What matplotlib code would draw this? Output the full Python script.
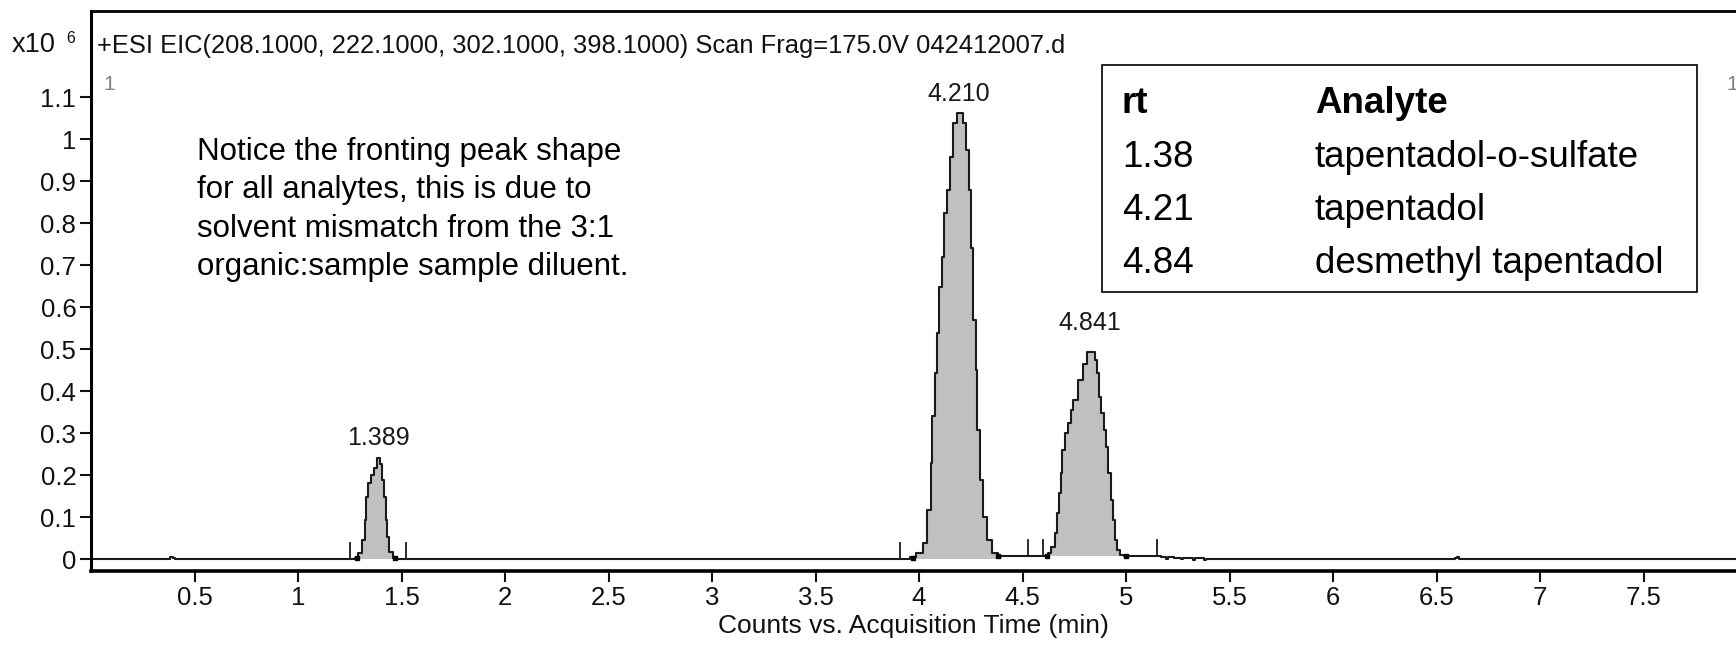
import matplotlib
matplotlib.use('Agg')
import matplotlib.pyplot as plt
from matplotlib.patches import Rectangle

plt.rcParams['font.family'] = ['Liberation Sans', 'DejaVu Sans']

W, H, DPI = 1736, 645, 100

# 峰1 (1.389) 读图得到的轮廓, 单位 x10^6 counts
PEAK1_T = [1.280, 1.300, 1.316, 1.327, 1.332, 1.345, 1.361, 1.377, 1.388, 1.401,
           1.409, 1.420, 1.428, 1.436, 1.448, 1.469]
PEAK1_V = [0.002, 0.014, 0.046, 0.094, 0.149, 0.181, 0.201, 0.217, 0.240, 0.228,
           0.189, 0.149, 0.094, 0.054, 0.018, 0.004]

# 峰2 (4.210)
PEAK2_T = [3.965, 4.005, 4.029, 4.053, 4.061, 4.069, 4.082, 4.093, 4.101, 4.117,
           4.126, 4.142, 4.158, 4.174, 4.190, 4.206, 4.222, 4.236, 4.246, 4.254,
           4.267, 4.279, 4.286, 4.303, 4.319, 4.335, 4.367, 4.399]
PEAK2_V = [0.006, 0.014, 0.038, 0.117, 0.229, 0.340, 0.443, 0.538, 0.649, 0.720,
           0.824, 0.879, 0.959, 1.038, 1.062, 1.062, 1.038, 0.975, 0.879, 0.740,
           0.570, 0.450, 0.308, 0.189, 0.101, 0.046, 0.014, 0.007]

# 峰3 (4.841)
PEAK3_T = [4.617, 4.625, 4.649, 4.662, 4.673, 4.681, 4.689, 4.697, 4.709, 4.726,
           4.738, 4.754, 4.778, 4.802, 4.826, 4.842, 4.855, 4.866, 4.874, 4.887,
           4.899, 4.907, 4.920, 4.931, 4.939, 4.952, 4.963, 4.980, 5.000]
PEAK3_V = [0.007, 0.014, 0.030, 0.062, 0.110, 0.157, 0.205, 0.260, 0.300, 0.324,
           0.355, 0.379, 0.427, 0.466, 0.494, 0.494, 0.474, 0.443, 0.387, 0.348,
           0.308, 0.268, 0.205, 0.141, 0.094, 0.046, 0.022, 0.010, 0.007]

# 峰之间的基线和小噪声
LEAD_T = [0.000, 0.375, 0.385, 0.392, 0.400, 0.410, 1.270]
LEAD_V = [0.000, 0.000, 0.005, 0.006, 0.004, 0.000, 0.000]
GAP1_T = [1.480, 3.950]
GAP1_V = [0.000, 0.000]
GAP2_T = [4.410, 4.610]
GAP2_V = [0.007, 0.007]
TAIL_T = [5.010, 5.150, 5.190, 5.197, 5.205, 5.260, 5.270, 5.280, 5.320, 5.330,
          5.340, 5.370, 5.380, 5.390, 5.420, 6.585, 6.595, 6.605, 6.615, 7.950]
TAIL_V = [0.007, 0.007, 0.005, 0.001, 0.005, 0.004, 0.000, 0.004, 0.003, -0.001,
          0.003, 0.002, -0.002, 0.001, 0.000, 0.000, 0.004, 0.005, 0.000, 0.000]

# 积分起止刻度和端点
INT_T = [1.253, 1.521, 3.910, 4.527, 4.597, 5.148]
INT_BASE = [0.000, 0.000, 0.000, 0.007, 0.007, 0.007]
MARK_T = [1.283, 1.468, 3.973, 4.383, 4.617, 5.000]
MARK_V = [0.002, 0.002, 0.002, 0.009, 0.009, 0.009]

PEAK_LABELS = ['1.389', '4.210', '4.841']
LABEL_OFFSETS = [8, 7, 17]

XTICKS = [0.5, 1, 1.5, 2, 2.5, 3, 3.5, 4, 4.5, 5, 5.5, 6, 6.5, 7, 7.5]
XTICK_LABELS = ['0.5', '1', '1.5', '2', '2.5', '3', '3.5', '4', '4.5', '5',
                '5.5', '6', '6.5', '7', '7.5']
YTICKS = [0, 0.1, 0.2, 0.3, 0.4, 0.5, 0.6, 0.7, 0.8, 0.9, 1.0, 1.1]
YTICK_LABELS = ['0', '0.1', '0.2', '0.3', '0.4', '0.5', '0.6', '0.7', '0.8',
                '0.9', '1', '1.1']

TITLE = '+ESI EIC(208.1000, 222.1000, 302.1000, 398.1000) Scan Frag=175.0V 042412007.d'
NOTE_LINES = ['Notice the fronting peak shape',
              'for all analytes, this is due to',
              'solvent mismatch from the 3:1',
              'organic:sample sample diluent.']
TABLE_HEADER = ['rt', 'Analyte']
TABLE_RT = ['1.38', '4.21', '4.84']
TABLE_NAME = ['tapentadol-o-sulfate', 'tapentadol', 'desmethyl tapentadol']


def fx(x):
    return x / W


def fy(y):
    return 1 - y / H


fig = plt.figure(figsize=(W / DPI, H / DPI), dpi=DPI)
ax_left, ax_right, ax_top, ax_bot = 91, 1736, 10.7, 571
ax = fig.add_axes([fx(ax_left), fy(ax_bot), (ax_right - ax_left) / W, (ax_bot - ax_top) / H])

x_max = (ax_right - ax_left) / 207.0
ax.set_xlim(0, x_max)
ax.set_ylim(-0.0279, 1.3062)

trace_t = LEAD_T + PEAK1_T + GAP1_T + PEAK2_T + GAP2_T + PEAK3_T + TAIL_T
trace_v = LEAD_V + PEAK1_V + GAP1_V + PEAK2_V + GAP2_V + PEAK3_V + TAIL_V

fill_c = '#c0c0c0'
ax.fill_between(PEAK1_T, 0, PEAK1_V, color=fill_c, lw=0, step='mid')
ax.fill_between(PEAK2_T, 0, PEAK2_V, color=fill_c, lw=0, step='mid')
ax.fill_between(PEAK3_T, 0.007, PEAK3_V, color=fill_c, lw=0, step='mid')
ax.plot(trace_t, trace_v, color='#1a1a1a', lw=1.5, drawstyle='steps-mid')

for t, b in zip(INT_T, INT_BASE):
    ax.plot([t, t], [b, b + 0.038], color='#1a1a1a', lw=1.3)
ax.plot(MARK_T, MARK_V, ls='none', marker='s', ms=2.5, color='black')

# 峰标签
for pt, pv, lab, off in zip([PEAK1_T, PEAK2_T, PEAK3_T], [PEAK1_V, PEAK2_V, PEAK3_V],
                            PEAK_LABELS, LABEL_OFFSETS):
    i = max(range(len(pv)), key=lambda k: pv[k])
    ax.annotate(lab, xy=(pt[i], pv[i]), xytext=(0, off), textcoords='offset pixels',
                ha='center', va='bottom', fontsize=18, color='#1a1a1a')

ax.set_xticks(XTICKS)
ax.set_xticklabels(XTICK_LABELS)
ax.set_yticks(YTICKS)
ax.set_yticklabels(YTICK_LABELS)
ax.tick_params(axis='both', direction='out', length=7.7, width=1.5, pad=2.9,
               labelsize=18.5, colors='#111111')

ax.spines['right'].set_visible(False)
ax.spines['top'].set_linewidth(2.0)
ax.spines['left'].set_linewidth(2.2)
ax.spines['bottom'].set_linewidth(2.6)

ax.set_xlabel('Counts vs. Acquisition Time (min)', fontsize=19, color='#111111')
ax.xaxis.set_label_coords(0.5, -0.076)

# 顶部文字
fig.text(fx(97), fy(53.3), TITLE, fontsize=18.4, color='#111111', va='baseline', ha='left')
fig.text(fx(12), fy(52), 'x10', fontsize=19.5, color='#111111', va='baseline', ha='left')
fig.text(fx(66), fy(43), '6', fontsize=11.5, color='#111111', va='baseline', ha='left')
fig.text(fx(103), fy(85), '1', fontsize=15, color='#808080', va='center', ha='left')
fig.text(fx(1726), fy(85), '1', fontsize=15, color='#808080', va='center', ha='left')

# 说明文字
for k, line in enumerate(NOTE_LINES):
    fig.text(fx(196.7), fy(160 + 38.3 * k), line, fontsize=22.5, color='black',
             va='baseline', ha='left')

# 表格
box_l, box_t, box_r, box_b = 1102, 65, 1696.5, 292
fig.patches.append(Rectangle((fx(box_l), fy(box_b)), (box_r - box_l) / W, (box_b - box_t) / H,
                             transform=fig.transFigure, facecolor='white',
                             edgecolor='black', lw=1.2, zorder=5))
col_x = [1122, 1314.7]
row_y = [113.3, 166.7, 220, 273.3]
for cx, head in zip(col_x, TABLE_HEADER):
    fig.text(fx(cx), fy(row_y[0]), head, fontsize=26.5, fontweight='bold',
             va='baseline', ha='left', zorder=6)
for k in range(len(TABLE_RT)):
    fig.text(fx(col_x[0]), fy(row_y[k + 1]), TABLE_RT[k], fontsize=26.5,
             va='baseline', ha='left', zorder=6)
    fig.text(fx(col_x[1]), fy(row_y[k + 1]), TABLE_NAME[k], fontsize=26.5,
             va='baseline', ha='left', zorder=6)

fig.savefig('out.png', dpi=DPI)
